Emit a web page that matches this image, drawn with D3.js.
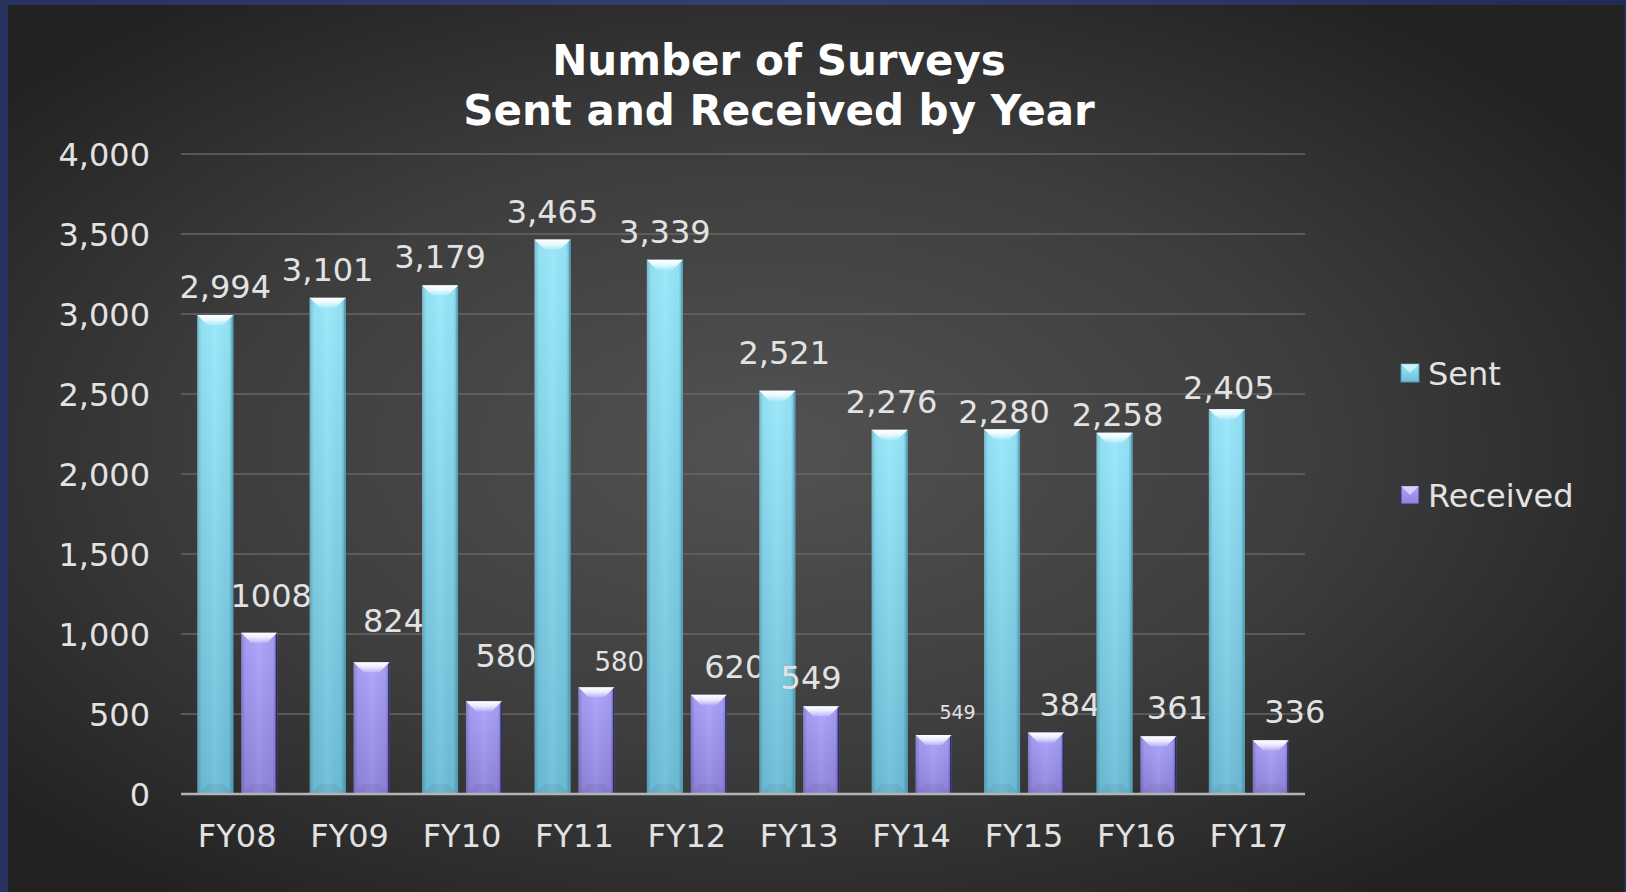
<!DOCTYPE html>
<html>
<head>
<meta charset="utf-8">
<title>Number of Surveys</title>
<script src="https://cdn.jsdelivr.net/npm/d3@7"></script>
<style>
  html, body { margin: 0; padding: 0; background: #1e2750; overflow: hidden; }
  svg { display: block; }
  text { font-family: "DejaVu Sans", Verdana, sans-serif; }
</style>
</head>
<body>
<div id="chart"></div>
<script>
// data
const years = ["FY08", "FY09", "FY10", "FY11", "FY12", "FY13", "FY14", "FY15", "FY16", "FY17"];
const seriesNames = ["Sent", "Received"];
const sentValues = [2994, 3101, 3179, 3465, 3339, 2521, 2276, 2280, 2258, 2405];
const receivedValues = [1008, 824, 580, 667, 620, 549, 368, 384, 361, 336];
// the slide's labels don't always match the bars (FY11, FY14)
const receivedLabels = ["1008", "824", "580", "580", "620", "549", "549", "384", "361", "336"];
const yTicks = [0, 500, 1000, 1500, 2000, 2500, 3000, 3500, 4000];
const titleLines = ["Number of Surveys", "Sent and Received by Year"];

// labels were dragged around by hand on the original, so keep the nudges (px)
const sentLabelNudge = [[10, 0], [0, 0], [0, 0], [0, 0], [0, 0], [7, -10], [2, 0], [2, 11], [3, 10], [2, 7]];
const receivedLabelNudge = [[-10, -9], [0, -13], [0, -17], [1, 1], [4, 0], [-32, 0], [2, 1], [2, 0], [-3, 0], [2, 0]];
const receivedLabelSize = [32, 32, 32, 26, 32, 32, 19, 32, 32, 32];

class SurveyChart {
    constructor(parentElement, config) {
        this.parentElement = parentElement;
        this.config = {
            containerWidth: config.containerWidth || 1626,
            containerHeight: config.containerHeight || 892,
            plot: config.plot || { left: 181, right: 1305, top: 154, bottom: 794 },
            colors: {
                sentTop: "#98e8fc", sentBottom: "#6dbdd7",
                recTop: "#aba3fc", recBottom: "#8e84dc",
                text: "#e2e2e2"
            }
        };
        this.initVis();
    }

    initVis() {
        let vis = this;
        const c = vis.config;

        vis.svg = d3.select(vis.parentElement)
            .append("svg")
            .attr("width", c.containerWidth)
            .attr("height", c.containerHeight);

        const defs = vis.svg.append("defs");

        const bg = defs.append("radialGradient").attr("id", "panelBg")
            .attr("cx", "47%").attr("cy", "50%").attr("r", "62%");
        bg.append("stop").attr("offset", "0%").attr("stop-color", "#525252");
        bg.append("stop").attr("offset", "55%").attr("stop-color", "#3d3d3d");
        bg.append("stop").attr("offset", "100%").attr("stop-color", "#222222");

        const frame = defs.append("linearGradient").attr("id", "frameBg")
            .attr("x1", 0).attr("x2", 1).attr("y1", 0).attr("y2", 0);
        frame.append("stop").attr("offset", "0%").attr("stop-color", "#28325e");
        frame.append("stop").attr("offset", "50%").attr("stop-color", "#34406e");
        frame.append("stop").attr("offset", "100%").attr("stop-color", "#222b55");

        vis.addBarGradient(defs, "sentFill", c.colors.sentTop, c.colors.sentBottom);
        vis.addBarGradient(defs, "recFill", c.colors.recTop, c.colors.recBottom);

        // darker edges across the bar width
        const edge = defs.append("linearGradient").attr("id", "edgeShade")
            .attr("x1", 0).attr("x2", 1).attr("y1", 0).attr("y2", 0);
        edge.append("stop").attr("offset", "0%").attr("stop-color", "#000").attr("stop-opacity", 0.2);
        edge.append("stop").attr("offset", "12%").attr("stop-color", "#000").attr("stop-opacity", 0.03);
        edge.append("stop").attr("offset", "50%").attr("stop-color", "#fff").attr("stop-opacity", 0.06);
        edge.append("stop").attr("offset", "88%").attr("stop-color", "#000").attr("stop-opacity", 0.03);
        edge.append("stop").attr("offset", "100%").attr("stop-color", "#000").attr("stop-opacity", 0.28);

        const bevel = defs.append("linearGradient").attr("id", "bevelTop")
            .attr("x1", 0).attr("x2", 0).attr("y1", 0).attr("y2", 1);
        bevel.append("stop").attr("offset", "0%").attr("stop-color", "#fff").attr("stop-opacity", 1);
        bevel.append("stop").attr("offset", "45%").attr("stop-color", "#fff").attr("stop-opacity", 0.8);
        bevel.append("stop").attr("offset", "100%").attr("stop-color", "#fff").attr("stop-opacity", 0.2);

        // frame + panel
        vis.svg.append("rect")
            .attr("width", c.containerWidth).attr("height", c.containerHeight)
            .attr("fill", "url(#frameBg)");
        vis.svg.append("rect")
            .attr("x", 8).attr("y", 5)
            .attr("width", 1616).attr("height", c.containerHeight - 5)
            .attr("fill", "url(#panelBg)");

        vis.renderVis();
    }

    addBarGradient(defs, id, top, bottom) {
        const g = defs.append("linearGradient").attr("id", id)
            .attr("x1", 0).attr("x2", 0).attr("y1", 0).attr("y2", 1);
        g.append("stop").attr("offset", "0%").attr("stop-color", top);
        g.append("stop").attr("offset", "100%").attr("stop-color", bottom);
    }

    renderVis() {
        let vis = this;
        const c = vis.config;
        const p = c.plot;

        const x = d3.scaleBand()
            .domain(years)
            .range([p.left, p.right]);

        const xSeries = d3.scaleBand()
            .domain(seriesNames)
            .range([0, x.bandwidth()])
            .paddingInner(0.18)
            .paddingOuter(0.37);

        const y = d3.scaleLinear()
            .domain([0, 4000])
            .range([p.bottom, p.top]);

        // title
        vis.svg.append("text")
            .attr("x", 779)
            .attr("text-anchor", "middle")
            .attr("font-weight", "bold")
            .attr("font-size", 42)
            .attr("fill", "#ffffff")
            .selectAll("tspan")
            .data(titleLines)
            .join("tspan")
            .attr("x", 779)
            .attr("y", (d, i) => 75 + i * 50)
            .text(d => d);

        // gridlines
        vis.svg.append("g")
            .selectAll("line")
            .data(yTicks.filter(d => d > 0))
            .join("line")
            .attr("x1", p.left).attr("x2", p.right)
            .attr("y1", d => y(d)).attr("y2", d => y(d))
            .attr("stroke", "#666666")
            .attr("stroke-width", 1.5);

        // y axis labels
        const yAxis = d3.axisLeft(y).tickValues(yTicks).tickFormat(d3.format(",")).tickSize(0).tickPadding(0);
        const yAxisG = vis.svg.append("g")
            .attr("transform", `translate(150,0)`)
            .call(yAxis);
        yAxisG.select(".domain").remove();
        yAxisG.selectAll("text")
            .attr("font-family", "DejaVu Sans, sans-serif")
            .attr("font-size", 32)
            .attr("fill", c.colors.text)
            .attr("dy", "0.36em");

        // x axis labels
        const xAxis = d3.axisBottom(x).tickSize(0).tickPadding(0);
        const xAxisG = vis.svg.append("g")
            .attr("transform", `translate(0,${p.bottom})`)
            .call(xAxis);
        xAxisG.select(".domain").remove();
        xAxisG.selectAll("text")
            .attr("font-family", "DejaVu Sans, sans-serif")
            .attr("font-size", 32)
            .attr("fill", c.colors.text)
            .attr("dy", 0)
            .attr("y", 53);

        const rows = years.map((yr, i) => ({
            year: yr, i: i,
            bars: [
                { key: "Sent", value: sentValues[i], fill: "url(#sentFill)", rim: "#4fa3bd" },
                { key: "Received", value: receivedValues[i], fill: "url(#recFill)", rim: "#2e2a68" }
            ]
        }));

        const groups = vis.svg.append("g")
            .selectAll("g")
            .data(rows)
            .join("g")
            .attr("transform", d => `translate(${x(d.year)},0)`);

        const bars = groups.selectAll("g.bar")
            .data(d => d.bars)
            .join("g")
            .attr("class", "bar");

        bars.append("rect")
            .attr("x", d => xSeries(d.key))
            .attr("y", d => y(d.value))
            .attr("width", xSeries.bandwidth())
            .attr("height", d => y(0) - y(d.value))
            .attr("fill", d => d.fill);

        bars.append("rect")
            .attr("x", d => xSeries(d.key))
            .attr("y", d => y(d.value))
            .attr("width", xSeries.bandwidth())
            .attr("height", d => y(0) - y(d.value))
            .attr("fill", "url(#edgeShade)");

        // right rim
        bars.append("line")
            .attr("x1", d => xSeries(d.key) + xSeries.bandwidth() - 0.75)
            .attr("x2", d => xSeries(d.key) + xSeries.bandwidth() - 0.75)
            .attr("y1", d => y(d.value))
            .attr("y2", y(0))
            .attr("stroke", d => d.rim)
            .attr("stroke-width", 1.5);

        // top bevel
        const bv = 10;
        bars.append("path")
            .attr("d", d => {
                const x0 = xSeries(d.key), w = xSeries.bandwidth(), t = y(d.value);
                return `M${x0},${t}L${x0 + w},${t}L${x0 + w - bv},${t + bv}L${x0 + bv},${t + bv}Z`;
            })
            .attr("fill", "url(#bevelTop)");

        // bottom bevel, faint
        bars.append("path")
            .attr("d", d => {
                const x0 = xSeries(d.key), w = xSeries.bandwidth(), b = y(0);
                return `M${x0},${b}L${x0 + w},${b}L${x0 + w - bv},${b - bv}L${x0 + bv},${b - bv}Z`;
            })
            .attr("fill", "#000")
            .attr("fill-opacity", 0.05);

        // axis line at zero
        vis.svg.append("line")
            .attr("x1", p.left).attr("x2", p.right)
            .attr("y1", y(0)).attr("y2", y(0))
            .attr("stroke", "#b4b4b4")
            .attr("stroke-width", 2.5);

        // value labels
        groups.append("text")
            .attr("x", d => xSeries("Sent") + xSeries.bandwidth() / 2 + sentLabelNudge[d.i][0])
            .attr("y", d => y(sentValues[d.i]) - 17 + sentLabelNudge[d.i][1])
            .attr("text-anchor", "middle")
            .attr("font-size", 32)
            .attr("fill", c.colors.text)
            .text(d => d3.format(",")(sentValues[d.i]));

        groups.append("text")
            .attr("x", d => xSeries("Received") + xSeries.bandwidth() / 2 + 22 + receivedLabelNudge[d.i][0])
            .attr("y", d => y(receivedValues[d.i]) - 17 + receivedLabelNudge[d.i][1])
            .attr("text-anchor", "middle")
            .attr("font-size", d => receivedLabelSize[d.i])
            .attr("fill", c.colors.text)
            .text(d => receivedLabels[d.i]);

        // legend
        const legend = vis.svg.append("g")
            .selectAll("g")
            .data(seriesNames)
            .join("g")
            .attr("transform", (d, i) => `translate(1401,${373 + i * 122})`);

        legend.append("rect")
            .attr("x", 0).attr("y", -9)
            .attr("width", 18).attr("height", 18)
            .attr("fill", (d, i) => i === 0 ? "url(#sentFill)" : "url(#recFill)")
            .attr("stroke", (d, i) => i === 0 ? "#4a98b0" : "#3b3575")
            .attr("stroke-width", 1);

        legend.append("path")
            .attr("d", "M0,-9L18,-9L9,0Z")
            .attr("fill", "#fff")
            .attr("fill-opacity", 0.55);

        legend.append("text")
            .attr("x", 27)
            .attr("dy", "0.36em")
            .attr("font-size", 32)
            .attr("fill", c.colors.text)
            .text(d => d);
    }
}

new SurveyChart("#chart", { containerWidth: 1626, containerHeight: 892 });
</script>
</body>
</html>
